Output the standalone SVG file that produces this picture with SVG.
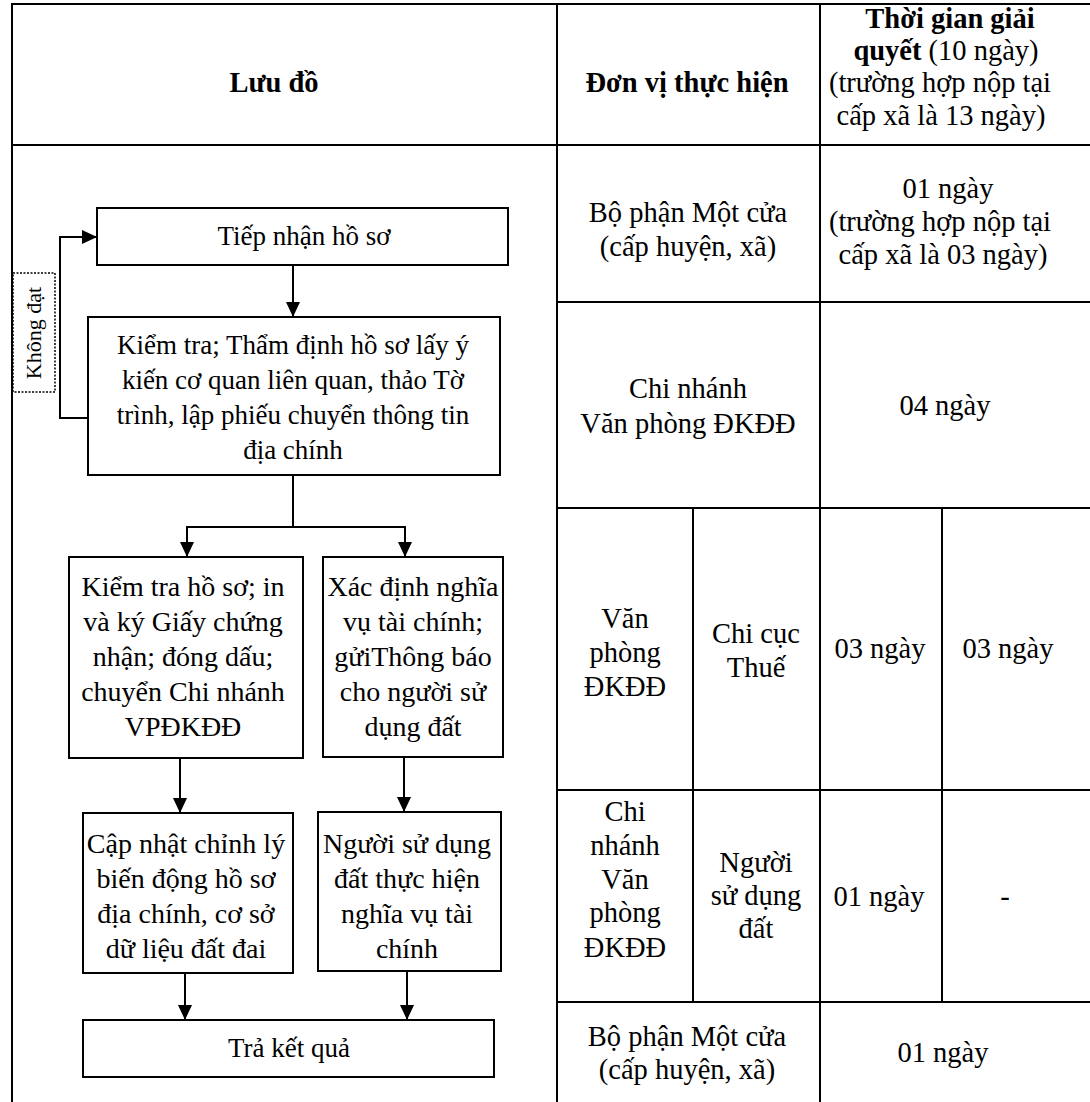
<svg xmlns="http://www.w3.org/2000/svg" width="1090" height="1102" viewBox="0 0 1090 1102">
<style>
  text { font-family: "Liberation Serif", "Times New Roman", serif; font-size: 28.5px; fill: #000; text-anchor: middle; }
  .b { font-weight: bold; }
  .f { font-size: 27px; }
  .g { font-size: 28px; }
  .grid line { stroke: #000; stroke-width: 2; }
  .box { fill: #fff; stroke: #000; stroke-width: 2; }
  .conn { fill: none; stroke: #000; stroke-width: 2; }
  .lbl { fill: #fff; stroke: #000; stroke-width: 1.5; stroke-dasharray: 2 1.5; }
  .small { font-size: 22px; }
</style>
<defs>
  <marker id="arr" markerUnits="userSpaceOnUse" markerWidth="14" markerHeight="15" refX="15" refY="7" orient="auto">
    <path d="M0,0 L15,7 L0,14 z" fill="#000"/>
  </marker>
</defs>
<rect x="0" y="0" width="1090" height="1102" fill="#fff"/>

<g id="table-grid" class="grid">
  <line x1="12" y1="4" x2="1090" y2="4"/>
  <line x1="12" y1="3" x2="12" y2="1102"/>
  <line x1="12" y1="145" x2="1090" y2="145"/>
  <line x1="557" y1="4" x2="557" y2="1102"/>
  <line x1="820" y1="4" x2="820" y2="1102"/>
  <line x1="557" y1="302" x2="1090" y2="302"/>
  <line x1="557" y1="508" x2="1090" y2="508"/>
  <line x1="557" y1="790" x2="1090" y2="790"/>
  <line x1="557" y1="1002" x2="1090" y2="1002"/>
  <line x1="693" y1="508" x2="693" y2="1002"/>
  <line x1="942" y1="508" x2="942" y2="1002"/>
</g>

<g id="header-luu-do"><text class="b" x="274" y="92">Lưu đồ</text></g>
<g id="header-don-vi"><text class="b" x="687" y="92">Đơn vị thực hiện</text></g>
<g id="header-thoi-gian">
  <text class="b" x="950" y="28">Thời gian giải</text>
  <text x="946" y="60"><tspan class="b">quyết</tspan> (10 ngày)</text>
  <text x="940" y="92">(trường hợp nộp tại</text>
  <text x="941" y="125">cấp xã là 13 ngày)</text>
</g>

<g id="row1-unit">
  <text x="688" y="222">Bộ phận Một cửa</text>
  <text x="688" y="256">(cấp huyện, xã)</text>
</g>
<g id="row1-time">
  <text x="948" y="198">01 ngày</text>
  <text x="940" y="231">(trường hợp nộp tại</text>
  <text x="943" y="264">cấp xã là 03 ngày)</text>
</g>
<g id="row2-unit">
  <text x="688" y="398">Chi nhánh</text>
  <text x="688" y="433">Văn phòng ĐKĐĐ</text>
</g>
<g id="row2-time"><text x="945" y="415">04 ngày</text></g>
<g id="row3-unit-a">
  <text x="625" y="628">Văn</text>
  <text x="625" y="662">phòng</text>
  <text x="625" y="696">ĐKĐĐ</text>
</g>
<g id="row3-unit-b">
  <text x="756" y="643">Chi cục</text>
  <text x="756" y="677">Thuế</text>
</g>
<g id="row3-time-a"><text x="880" y="658">03 ngày</text></g>
<g id="row3-time-b"><text x="1008" y="658">03 ngày</text></g>
<g id="row4-unit-a">
  <text x="625" y="821">Chi</text>
  <text x="625" y="855">nhánh</text>
  <text x="625" y="889">Văn</text>
  <text x="625" y="922">phòng</text>
  <text x="625" y="957">ĐKĐĐ</text>
</g>
<g id="row4-unit-b">
  <text x="756" y="872">Người</text>
  <text x="756" y="905">sử dụng</text>
  <text x="756" y="938">đất</text>
</g>
<g id="row4-time-a"><text x="879" y="906">01 ngày</text></g>
<g id="row4-time-b"><text x="1005" y="906">-</text></g>
<g id="row5-unit">
  <text x="687" y="1046">Bộ phận Một cửa</text>
  <text x="687" y="1079">(cấp huyện, xã)</text>
</g>
<g id="row5-time"><text x="943" y="1062">01 ngày</text></g>

<g id="connectors">
  <path class="conn" d="M293,265 L293,317" marker-end="url(#arr)"/>
  <path class="conn" d="M88,418 L60,418 L60,237 L97,237" marker-end="url(#arr)"/>
  <path class="conn" d="M293,475 L293,527"/>
  <path class="conn" d="M187,527 L405,527"/>
  <path class="conn" d="M187,526 L187,557" marker-end="url(#arr)"/>
  <path class="conn" d="M405,526 L405,557" marker-end="url(#arr)"/>
  <path class="conn" d="M180,758 L180,813" marker-end="url(#arr)"/>
  <path class="conn" d="M404,757 L404,812" marker-end="url(#arr)"/>
  <path class="conn" d="M185,973 L185,1020" marker-end="url(#arr)"/>
  <path class="conn" d="M407,971 L407,1020" marker-end="url(#arr)"/>
</g>

<g id="label-khong-dat">
  <rect class="lbl" x="13" y="273" width="42" height="119"/>
  <text class="small" transform="translate(41,333) rotate(-90)">Không đạt</text>
</g>

<g id="node-tiep-nhan">
  <rect class="box" x="97" y="208" width="411" height="57"/>
  <text class="f" x="304" y="245">Tiếp nhận hồ sơ</text>
</g>
<g id="node-kiem-tra-tham-dinh">
  <rect class="box" x="88" y="317" width="412" height="158"/>
  <text class="f" x="293" y="354">Kiểm tra; Thẩm định hồ sơ lấy ý</text>
  <text class="f" x="293" y="389">kiến cơ quan liên quan, thảo Tờ</text>
  <text class="f" x="293" y="424">trình, lập phiếu chuyển thông tin</text>
  <text class="f" x="293" y="459">địa chính</text>
</g>
<g id="node-kiem-tra-ho-so">
  <rect class="box" x="69" y="557" width="234" height="201"/>
  <text class="g" x="183" y="596">Kiểm tra hồ sơ; in</text>
  <text class="g" x="183" y="631">và ký Giấy chứng</text>
  <text class="g" x="183" y="666">nhận; đóng dấu;</text>
  <text class="g" x="183" y="701">chuyển Chi nhánh</text>
  <text class="g" x="183" y="736">VPĐKĐĐ</text>
</g>
<g id="node-xac-dinh-nghia-vu">
  <rect class="box" x="323" y="557" width="180" height="200"/>
  <text class="g" x="413" y="596">Xác định nghĩa</text>
  <text class="g" x="413" y="631">vụ tài chính;</text>
  <text class="g" x="413" y="666">gửiThông báo</text>
  <text class="g" x="413" y="701">cho người sử</text>
  <text class="g" x="413" y="736">dụng đất</text>
</g>
<g id="node-cap-nhat">
  <rect class="box" x="83" y="813" width="210" height="160"/>
  <text class="g" x="186" y="853">Cập nhật chỉnh lý</text>
  <text class="g" x="186" y="888">biến động hồ sơ</text>
  <text class="g" x="186" y="923">địa chính, cơ sở</text>
  <text class="g" x="186" y="958">dữ liệu đất đai</text>
</g>
<g id="node-nguoi-su-dung">
  <rect class="box" x="318" y="812" width="183" height="159"/>
  <text class="g" x="407" y="853">Người sử dụng</text>
  <text class="g" x="407" y="888">đất thực hiện</text>
  <text class="g" x="407" y="923">nghĩa vụ tài</text>
  <text class="g" x="407" y="958">chính</text>
</g>
<g id="node-tra-ket-qua">
  <rect class="box" x="83" y="1020" width="411" height="57"/>
  <text class="f" x="289" y="1057">Trả kết quả</text>
</g>
</svg>
